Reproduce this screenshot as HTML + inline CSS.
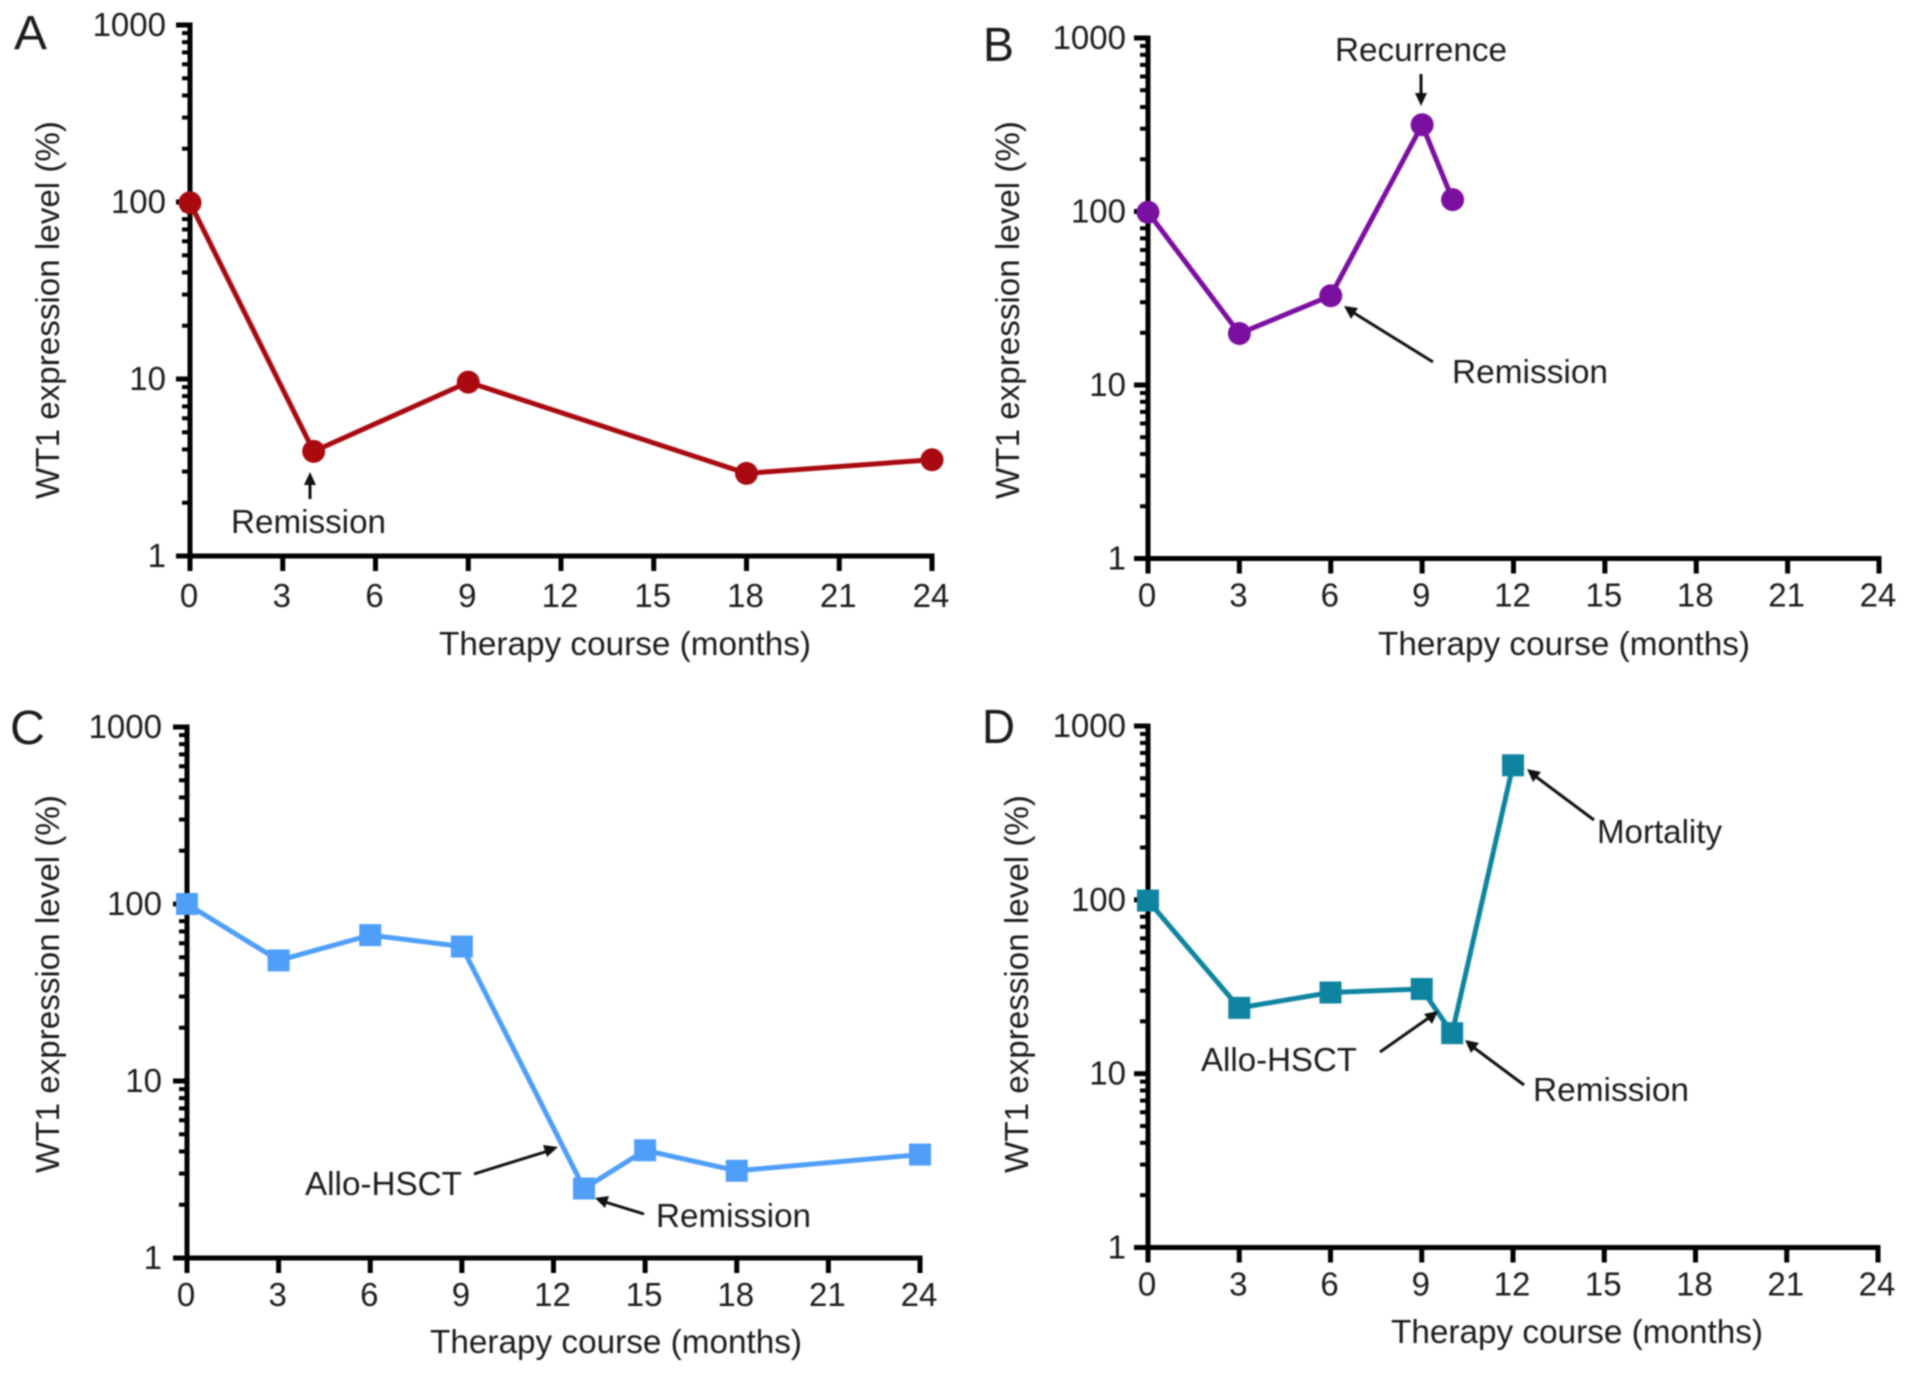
<!DOCTYPE html>
<html lang="en">
<head>
<meta charset="utf-8">
<title>WT1 expression level during therapy course</title>
<style>
html,body{margin:0;padding:0;background:#fff;width:1913px;height:1374px;overflow:hidden}
svg{display:block;filter:blur(.7px)}
text{font-family:"Liberation Sans",Arial,sans-serif;fill:#1c1c1c;font-size:33px}
.note-line{stroke:#111;stroke-width:3;fill:none}
.note-head{fill:#111;stroke:none}
</style>
</head>
<body>
<svg id="figure" xmlns="http://www.w3.org/2000/svg" width="1913" height="1374" viewBox="0 0 1913 1374">
  <rect width="1913" height="1374" fill="#fff"/>
  <g id="plots"></g>

  <g>
    <text x="231" y="533" textLength="155" lengthAdjust="spacingAndGlyphs">Remission</text>
    <line class="note-line" x1="310" y1="499" x2="310" y2="482"/>
    <polygon class="note-head" points="310,472 304,485 316,485"/>

    <text x="1335" y="61" textLength="172" lengthAdjust="spacingAndGlyphs">Recurrence</text>
    <line class="note-line" x1="1421" y1="74" x2="1421" y2="96"/>
    <polygon class="note-head" points="1421,106 1415,93 1427,93"/>
    <text x="1452" y="383" textLength="156" lengthAdjust="spacingAndGlyphs">Remission</text>
    <line class="note-line" x1="1433" y1="362" x2="1354" y2="313"/>
    <polygon class="note-head" points="1344,306 1358,308 1351,319"/>

    <text x="305" y="1195" textLength="157" lengthAdjust="spacingAndGlyphs">Allo-HSCT</text>
    <line class="note-line" x1="474" y1="1174" x2="548" y2="1151"/>
    <polygon class="note-head" points="558,1147 547,1157 543,1145"/>
    <text x="656" y="1227" textLength="155" lengthAdjust="spacingAndGlyphs">Remission</text>
    <line class="note-line" x1="644" y1="1214" x2="605" y2="1202"/>
    <polygon class="note-head" points="595,1198 609,1196 605,1208"/>

    <text x="1597" y="843" textLength="125" lengthAdjust="spacingAndGlyphs">Mortality</text>
    <line class="note-line" x1="1594" y1="820" x2="1535" y2="776"/>
    <polygon class="note-head" points="1527,769 1541,772 1533,782"/>
    <text x="1201" y="1071" textLength="156" lengthAdjust="spacingAndGlyphs">Allo-HSCT</text>
    <line class="note-line" x1="1380" y1="1052" x2="1430" y2="1017"/>
    <polygon class="note-head" points="1438,1011 1432,1024 1424,1014"/>
    <text x="1533" y="1101" textLength="156" lengthAdjust="spacingAndGlyphs">Remission</text>
    <line class="note-line" x1="1524" y1="1085" x2="1473" y2="1047"/>
    <polygon class="note-head" points="1465,1040 1479,1043 1471,1053"/>
  </g>
</svg>

<script>
// Shared axis data
const xTickValues = [0, 3, 6, 9, 12, 15, 18, 21, 24];
const yTickValues = [1, 10, 100, 1000];
const yMinorMultipliers = [2, 3, 4, 5, 6, 7, 8, 9];
const xAxisLabel = 'Therapy course (months)';
const yAxisLabel = 'WT1 expression level (%)';

// Panel A
const panelAMonths = [0, 4, 9, 18, 24];
const panelAValues = [99, 3.9, 9.6, 2.93, 3.5];
const panelATickLabels = ['0', '3', '6', '9', '12', '15', '18', '21', '24'];

// Panel B
const panelBMonths = [0, 3, 6, 9, 10];
const panelBValues = [99, 19.8, 32.7, 316, 117];
const panelBTickLabels = ['0', '3', '6', '9', '12', '15', '18', '21', '24'];

// Panel C
const panelCMonths = [0, 3, 6, 9, 13, 15, 18, 24];
const panelCValues = [100, 48, 66.7, 57.5, 2.47, 4.06, 3.11, 3.84];
const panelCTickLabels = ['0', '3', '6', '9', '12', '15', '18', '21', '24'];

// Panel D
const panelDMonths = [0, 3, 6, 9, 10, 12];
const panelDValues = [99, 23.9, 29.3, 30.7, 17.1, 594];
const panelDTickLabels = ['0', '3', '6', '9', '12', '15', '18', '21', '24'];

const NS = 'http://www.w3.org/2000/svg';
const root = document.getElementById('plots');

function make(tag, parent, attrs, content) {
  const el = document.createElementNS(NS, tag);
  for (const k in attrs) el.setAttribute(k, attrs[k]);
  if (content !== undefined) el.textContent = content;
  parent.appendChild(el);
  return el;
}

function drawPanel(p) {
  const sx = v => p.x0 + (v - 0) / 24 * (p.x1 - p.x0);
  const sy = v => p.y0 + (Math.log10(v) - 0) / 3 * (p.y1 - p.y0);

  const g = make('g', root, {});
  
  

  const letter = make('text', g, {x: p.letterX, y: p.letterY, style: 'font-size:48px', textLength: p.letterW, lengthAdjust: 'spacingAndGlyphs'}, p.id.toUpperCase());
  
  

  const yAxis = make('line', g, {x1: p.x0, x2: p.x0, y1: sy(1) + 2, y2: sy(1000) - 2.5, stroke: '#000', 'stroke-width': 5});
  
  

  const xAxis = make('line', g, {x1: p.x0 - 14, x2: sx(24) + 2.5, y1: sy(1), y2: sy(1), stroke: '#000', 'stroke-width': 5});
  
  

  yTickValues.forEach(v => {
    const t = make('line', g, {x1: p.x0 - 14, x2: p.x0, y1: sy(v), y2: sy(v), stroke: '#000', 'stroke-width': 5});
    
    

    const l = make('text', g, {x: p.x0 + p.yLabelDx, y: sy(v) + 11, 'text-anchor': 'end'}, String(v));
    
    

    if (v < 1000) {
      yMinorMultipliers.forEach(m => {
        const mt = make('line', g, {x1: p.x0 - 8, x2: p.x0, y1: sy(v * m), y2: sy(v * m), stroke: '#000', 'stroke-width': 4});
        
        
      });
    }
  });

  xTickValues.forEach((v, i) => {
    const t = make('line', g, {x1: sx(v), x2: sx(v), y1: sy(1), y2: sy(1) + 15, stroke: '#000', 'stroke-width': 5});
    
    

    const l = make('text', g, {x: sx(v) - 1, y: sy(1) + p.xLabelDy, 'text-anchor': 'middle'}, p.tickLabels[i]);
    
    
  });

  const xt = make('text', g, {x: p.xTitleX, y: p.xTitleY, textLength: 372, lengthAdjust: 'spacingAndGlyphs'}, xAxisLabel);
  
  

  const yt = make('text', g, {transform: 'translate(' + p.yTitleX + ' ' + p.yTitleY + ') rotate(-90)', textLength: 378, lengthAdjust: 'spacingAndGlyphs'}, yAxisLabel);
  
  

  const pts = p.months.map((m, i) => sx(m) + ',' + sy(p.values[i])).join(' ');
  const line = make('polyline', g, {points: pts, fill: 'none', stroke: p.color, 'stroke-width': 5, 'stroke-linejoin': 'round'});
  
  

  p.months.forEach((m, i) => {
    const cx = sx(m);
    const cy = sy(p.values[i]);
    const mark = p.square
      ? make('rect', g, {x: cx - 11, y: cy - 11, width: 22, height: 22, fill: p.color})
      : make('circle', g, {cx: cx, cy: cy, r: 11.5, fill: p.color});
    
    
  });
}

drawPanel({id: 'a', months: panelAMonths, values: panelAValues, tickLabels: panelATickLabels,
  x0: 190, x1: 932, y0: 556, y1: 25, color: '#a80a10', square: false,
  letterX: 14, letterY: 49, letterW: 33, yLabelDx: -24, xLabelDy: 51,
  xTitleX: 439, xTitleY: 655, yTitleX: 59, yTitleY: 499});
drawPanel({id: 'b', months: panelBMonths, values: panelBValues, tickLabels: panelBTickLabels,
  x0: 1148, x1: 1879, y0: 558.5, y1: 38, color: '#7b0fa0', square: false,
  letterX: 983, letterY: 61, letterW: 31, yLabelDx: -22, xLabelDy: 48,
  xTitleX: 1378, xTitleY: 655, yTitleX: 1019, yTitleY: 499});
drawPanel({id: 'c', months: panelCMonths, values: panelCValues, tickLabels: panelCTickLabels,
  x0: 187, x1: 920, y0: 1258, y1: 727, color: '#4f9ef8', square: true,
  letterX: 10, letterY: 744, letterW: 35, yLabelDx: -25, xLabelDy: 48,
  xTitleX: 430, xTitleY: 1353, yTitleX: 59, yTitleY: 1173});
drawPanel({id: 'd', months: panelDMonths, values: panelDValues, tickLabels: panelDTickLabels,
  x0: 1148, x1: 1878, y0: 1247.5, y1: 726, color: '#0f84a0', square: true,
  letterX: 982, letterY: 743, letterW: 33, yLabelDx: -22, xLabelDy: 48,
  xTitleX: 1391, xTitleY: 1343, yTitleX: 1028, yTitleY: 1173});
</script>
</body>
</html>
